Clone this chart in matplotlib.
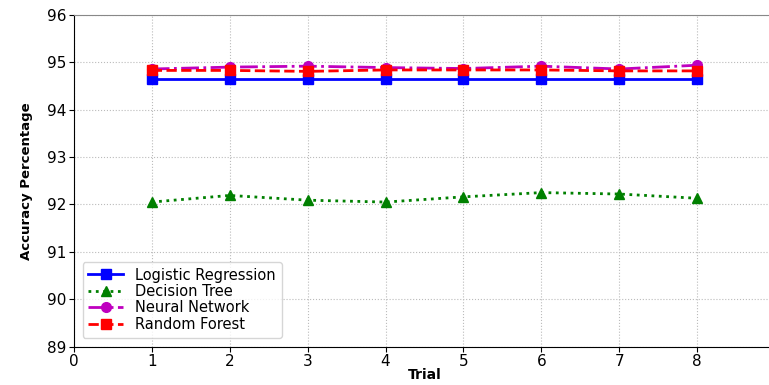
import numpy as np
import matplotlib
matplotlib.use("Agg")
import matplotlib.pyplot as plt

trials = [1, 2, 3, 4, 5, 6, 7, 8]
logistic = [94.64, 94.64, 94.64, 94.64, 94.64, 94.64, 94.64, 94.64]
tree = [92.05, 92.19, 92.09, 92.05, 92.16, 92.25, 92.22, 92.13]
neural = [94.86, 94.90, 94.92, 94.89, 94.87, 94.92, 94.86, 94.94]
forest = [94.83, 94.83, 94.81, 94.84, 94.84, 94.84, 94.82, 94.82]

fig = plt.figure(figsize=(7.69, 3.85), dpi=100)
ax = fig.add_axes([0.096, 0.10, 0.912, 0.861])

ax.plot(trials, logistic, 'b-s', lw=2, ms=7, label="Logistic Regression")
ax.plot(trials, tree, 'g:^', lw=2, ms=7, label="Decision Tree")
ax.plot(trials, neural, 'm-.o', lw=2, ms=7, label="Neural Network")
ax.plot(trials, forest, 'r--s', lw=2, ms=7, label="Random Forest")

ax.set_xlim(0, 9)
ax.set_ylim(89, 96)
ax.set_xticks(range(0, 9))
ax.set_yticks(range(89, 97))
ax.tick_params(labelsize=11, pad=2)
ax.grid(True, linestyle=':', color='#bbbbbb')
ax.spines['top'].set_color('#888888')
ax.spines['right'].set_visible(False)

ax.set_xlabel("Trial", fontweight='bold', fontsize=10, labelpad=-1)
ax.set_ylabel("Accuracy Percentage", fontweight='bold', fontsize=9.5, labelpad=10)
ax.legend(loc='lower left', fontsize=10.5, borderaxespad=0.6,
          handlelength=2.4, labelspacing=0.1)

fig.savefig("out.png", dpi=100)
